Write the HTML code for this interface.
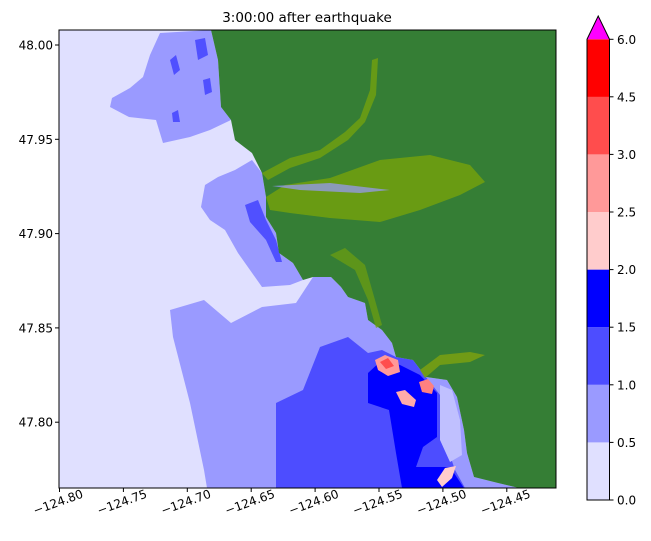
<!DOCTYPE html>
<html><head><meta charset="utf-8"><style>
body{margin:0;background:#fff;}
svg{display:block;font-family:"DejaVu Sans","Liberation Sans",sans-serif;}
</style></head><body>
<svg width="651" height="541" viewBox="0 0 651 541" xmlns="http://www.w3.org/2000/svg">
<defs><clipPath id="c"><rect x="59" y="30" width="497" height="458"/></clipPath></defs>
<text x="307" y="22" font-size="13.5" text-anchor="middle">3:00:00 after earthquake</text>
<g clip-path="url(#c)">
<rect x="59" y="30" width="497" height="458" fill="#e0e0ff"/>
<path d="M110,107 L112,98 L130,88 L143,77 L150,55 L160,33 L211,30 L218,60 L221,107 L231,120 L210,130 L190,137 L163,143 L156,120 L129,117 Z" fill="#9a9aff"/>
<path d="M170,60 L176,55 L180,70 L174,75 Z M195,40 L205,38 L208,55 L198,60 Z M203,80 L210,78 L212,92 L205,95 Z M172,113 L178,110 L180,122 L173,122 Z" fill="#5050ff"/>
<path d="M201,207 L205,185 L218,177 L235,170 L252,160 L262,173 L266,197 L266,217 L276,233 L279,253 L293,263 L303,280 L290,285 L262,287 L250,270 L238,253 L225,230 L210,220 Z" fill="#9a9aff"/>
<path d="M245,205 L258,200 L266,220 L276,240 L282,262 L276,262 L266,240 L250,222 Z" fill="#5050ff"/>
<path d="M170,310 L204,300 L231,323 L262,307 L296,303 L313,277 L331,277 L341,287 L348,297 L365,303 L368,320 L382,330 L392,343 L396,357 L413,360 L426,377 L447,380 L457,397 L464,430 L467,453 L474,477 L498,483 L519,488 L207,488 L204,470 L190,403 L173,337 Z" fill="#9a9aff"/>
<path d="M276,488 L276,403 L303,390 L320,347 L348,337 L368,353 L382,350 L396,357 L413,360 L426,377 L440,395 L445,440 L455,470 L465,488 Z" fill="#4d4dff"/>
<path d="M368,373 L382,360 L400,365 L420,375 L437,393 L437,437 L423,447 L416,467 L450,467 L464,488 L402,488 L396,453 L389,410 L368,403 Z" fill="#0000ff"/>
<path d="M440,385 L452,390 L460,420 L462,455 L450,462 L440,440 Z" fill="#c0c0ff"/>
<path d="M375,360 L385,355 L398,360 L400,372 L388,376 L378,370 Z" fill="#ff9999"/>
<path d="M380,362 L388,358 L394,366 L386,369 Z" fill="#ff4d4d"/>
<path d="M419,382 L428,379 L434,386 L432,394 L422,392 Z" fill="#ff8080"/>
<path d="M396,392 L405,390 L416,400 L414,407 L402,404 Z" fill="#ffaaaa"/>
<path d="M437,480 L445,468 L456,466 L452,478 L442,487 Z" fill="#ffcccc"/>
<path d="M211,30 L218,60 L221,107 L231,120 L235,140 L252,153 L262,173 L266,197 L266,217 L276,233 L279,253 L293,263 L303,280 L313,277 L331,277 L341,287 L348,297 L365,303 L368,320 L382,330 L392,343 L396,357 L413,360 L426,377 L447,380 L457,397 L464,430 L467,453 L474,477 L498,483 L519,488 L556,488 L556,30 Z" fill="#357e35"/>
<path d="M266,197 L285,185 L330,178 L380,160 L430,155 L470,165 L485,182 L460,195 L420,210 L380,222 L330,218 L290,213 L270,210 Z" fill="#6f9f10" opacity="0.9"/>
<path d="M262,173 L290,158 L320,150 L345,132 L360,118 L370,90 L372,60 L378,58 L376,95 L365,122 L348,140 L320,158 L290,168 L268,180 Z" fill="#6f9f10" opacity="0.85"/>
<path d="M330,255 L345,248 L365,265 L375,300 L382,325 L376,328 L368,300 L355,270 Z" fill="#6f9f10" opacity="0.7"/>
<path d="M420,370 L440,355 L470,352 L485,355 L470,362 L440,365 L425,378 Z" fill="#7aa010" opacity="0.85"/>
<path d="M272,186 L330,183 L390,190 L360,193 L300,190 Z" fill="#9a9aff" opacity="0.7"/>
</g>
<rect x="59" y="30" width="497" height="458" fill="none" stroke="#000" stroke-width="1"/>
<g stroke="#000">
<line x1="59.5" y1="488" x2="59.5" y2="492"/><line x1="123.4" y1="488" x2="123.4" y2="492"/><line x1="187.3" y1="488" x2="187.3" y2="492"/><line x1="251.2" y1="488" x2="251.2" y2="492"/><line x1="315.1" y1="488" x2="315.1" y2="492"/><line x1="379" y1="488" x2="379" y2="492"/><line x1="442.9" y1="488" x2="442.9" y2="492"/><line x1="506.8" y1="488" x2="506.8" y2="492"/>
<line x1="55" y1="45" x2="59" y2="45"/><line x1="55" y1="139.3" x2="59" y2="139.3"/><line x1="55" y1="233.6" x2="59" y2="233.6"/><line x1="55" y1="327.9" x2="59" y2="327.9"/><line x1="55" y1="422.2" x2="59" y2="422.2"/>
</g>
<g font-size="12" text-anchor="end">
<text x="53" y="49.5">48.00</text><text x="53" y="143.8">47.95</text><text x="53" y="238">47.90</text><text x="53" y="332.4">47.85</text><text x="53" y="426.7">47.80</text>
</g>
<g font-size="12" text-anchor="middle">
<text transform="translate(59.5,506) rotate(-20)">−124.80</text>
<text transform="translate(123.4,506) rotate(-20)">−124.75</text>
<text transform="translate(187.3,506) rotate(-20)">−124.70</text>
<text transform="translate(251.2,506) rotate(-20)">−124.65</text>
<text transform="translate(315.1,506) rotate(-20)">−124.60</text>
<text transform="translate(379,506) rotate(-20)">−124.55</text>
<text transform="translate(442.9,506) rotate(-20)">−124.50</text>
<text transform="translate(506.8,506) rotate(-20)">−124.45</text>
</g>
<g>
<rect x="587" y="442.4" width="22.5" height="57.6" fill="#e0e0ff"/>
<rect x="587" y="384.8" width="22.5" height="57.6" fill="#9a9aff"/>
<rect x="587" y="327.2" width="22.5" height="57.6" fill="#4d4dff"/>
<rect x="587" y="269.6" width="22.5" height="57.6" fill="#0000ff"/>
<rect x="587" y="212" width="22.5" height="57.6" fill="#ffcccc"/>
<rect x="587" y="154.4" width="22.5" height="57.6" fill="#ff9999"/>
<rect x="587" y="96.8" width="22.5" height="57.6" fill="#ff4d4d"/>
<rect x="587" y="39.3" width="22.5" height="57.6" fill="#ff0000"/>
<path d="M587,39.3 L598.2,16 L609.5,39.3 Z" fill="#ff00ff"/>
<path d="M587,500 L587,39.3 L598.2,16 L609.5,39.3 L609.5,500 Z" fill="none" stroke="#000" stroke-width="1"/>
</g>
<g stroke="#000">
<line x1="609.5" y1="500" x2="613.5" y2="500"/><line x1="609.5" y1="442.4" x2="613.5" y2="442.4"/><line x1="609.5" y1="384.8" x2="613.5" y2="384.8"/><line x1="609.5" y1="327.2" x2="613.5" y2="327.2"/><line x1="609.5" y1="269.6" x2="613.5" y2="269.6"/><line x1="609.5" y1="212" x2="613.5" y2="212"/><line x1="609.5" y1="154.4" x2="613.5" y2="154.4"/><line x1="609.5" y1="96.8" x2="613.5" y2="96.8"/><line x1="609.5" y1="39.3" x2="613.5" y2="39.3"/>
</g>
<g font-size="12">
<text x="617" y="504.5">0.0</text><text x="617" y="446.9">0.5</text><text x="617" y="389.3">1.0</text><text x="617" y="331.7">1.5</text><text x="617" y="274.1">2.0</text><text x="617" y="216.5">2.5</text><text x="617" y="158.9">3.0</text><text x="617" y="101.3">4.5</text><text x="617" y="43.8">6.0</text>
</g>
</svg>
</body></html>
